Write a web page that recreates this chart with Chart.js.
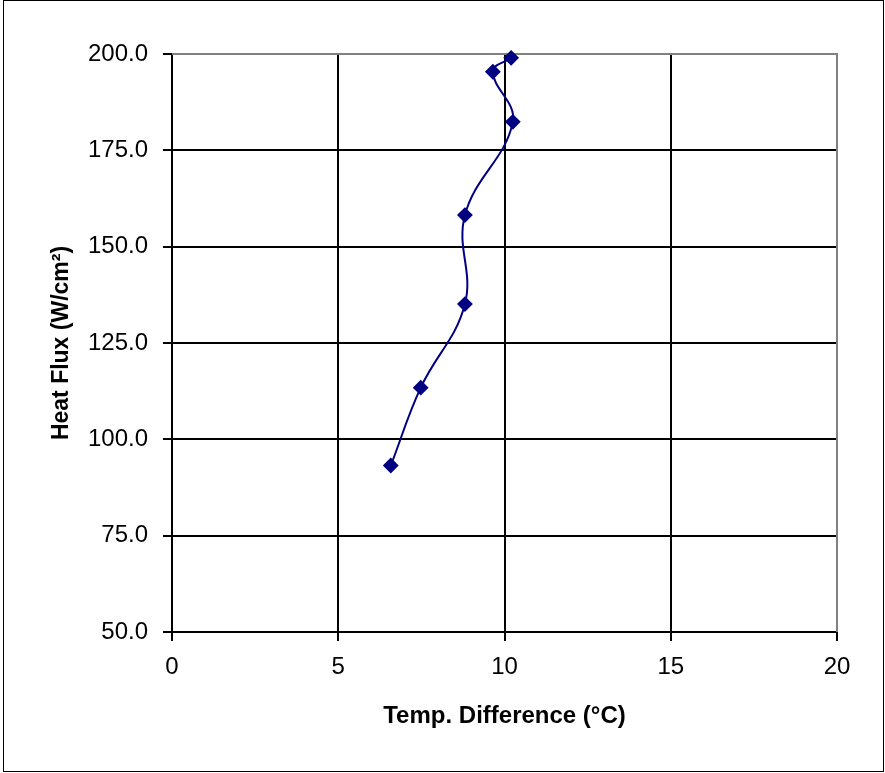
<!DOCTYPE html>
<html>
<head>
<meta charset="utf-8">
<script src="https://cdn.jsdelivr.net/npm/chart.js@4/dist/chart.umd.min.js"></script>
<style>
  html, body { margin: 0; padding: 0; background: #fff; }
  #wrap { width: 885px; height: 773px; }
</style>
</head>
<body>
<div id="wrap"><canvas id="fluxChart" width="885" height="773"></canvas></div>
<script>
// data
const tempDiff = [6.58, 7.48, 8.81, 8.81, 10.25, 9.65, 10.20];
const heatFlux = [93.2, 113.4, 135.1, 158.2, 182.4, 195.4, 199.0];
const xTicks = [0, 5, 10, 15, 20];
const yTicks = [50, 75, 100, 125, 150, 175, 200];

const points = tempDiff.map((x, i) => ({ x: x, y: heatFlux[i] }));

// outer frame + grey top/right edges of plot area
const framePlugin = {
  id: "frame",
  beforeDraw(chart) {
    const ctx = chart.ctx;
    ctx.save();
    ctx.fillStyle = "#fff";
    ctx.fillRect(0, 0, chart.width, chart.height);
    ctx.strokeStyle = "#000";
    ctx.lineWidth = 1;
    ctx.strokeRect(3.5, 0.5, 880, 771);
    ctx.restore();
  },
  beforeDatasetsDraw(chart) {
    const a = chart.chartArea;
    const ctx = chart.ctx;
    ctx.save();
    ctx.strokeStyle = "#808080";
    ctx.lineWidth = 2;
    ctx.beginPath();
    ctx.moveTo(a.left, a.top);
    ctx.lineTo(a.right, a.top);
    ctx.lineTo(a.right, a.bottom);
    ctx.stroke();
    ctx.restore();
  }
};

new Chart(document.getElementById("fluxChart"), {
  type: "scatter",
  data: {
    datasets: [{
      data: points,
      showLine: true,
      clip: false,
      borderColor: "#000080",
      backgroundColor: "#000080",
      borderWidth: 2,
      tension: 0.4,
      pointStyle: "rectRot",
      pointRadius: 6.5,
      pointHoverRadius: 6.5
    }]
  },
  options: {
    responsive: false,
    animation: false,
    layout: { padding: { left: 0, right: 48, top: 54, bottom: 0 } },
    plugins: { legend: { display: false }, tooltip: { enabled: false } },
    scales: {
      x: {
        type: "linear",
        min: 0, max: 20,
        afterBuildTicks: s => { s.ticks = xTicks.map(v => ({ value: v })); },
        afterFit: s => { s.height = 141; },
        grid: { color: "#000", lineWidth: 2, tickLength: 9, tickColor: "#000" },
        border: { color: "#000", width: 2 },
        ticks: { color: "#000", padding: 12, font: { family: "Liberation Sans, Arial", size: 24 } },
        title: {
          display: true,
          text: "Temp. Difference (°C)",
          color: "#000",
          font: { family: "Liberation Sans, Arial", size: 24, weight: "bold" },
          padding: { top: 0, bottom: 42 }
        }
      },
      y: {
        type: "linear",
        min: 50, max: 200,
        afterBuildTicks: s => { s.ticks = yTicks.map(v => ({ value: v })); },
        afterFit: s => { s.width = 172; },
        grid: {
          color: c => (c.tick && c.tick.value === 200) ? "#808080" : "#000",
          lineWidth: 2, tickLength: 9, tickColor: "#000"
        },
        border: { color: "#000", width: 2 },
        ticks: {
          color: "#000", padding: 15,
          font: { family: "Liberation Sans, Arial", size: 24 },
          callback: v => v.toFixed(1)
        },
        title: {
          display: true,
          text: "Heat Flux (W/cm²)",
          color: "#000",
          font: { family: "Liberation Sans, Arial", size: 23, weight: "bold" },
          padding: { top: 48, bottom: 0 }
        }
      }
    }
  },
  plugins: [framePlugin]
});
</script>
</body>
</html>
